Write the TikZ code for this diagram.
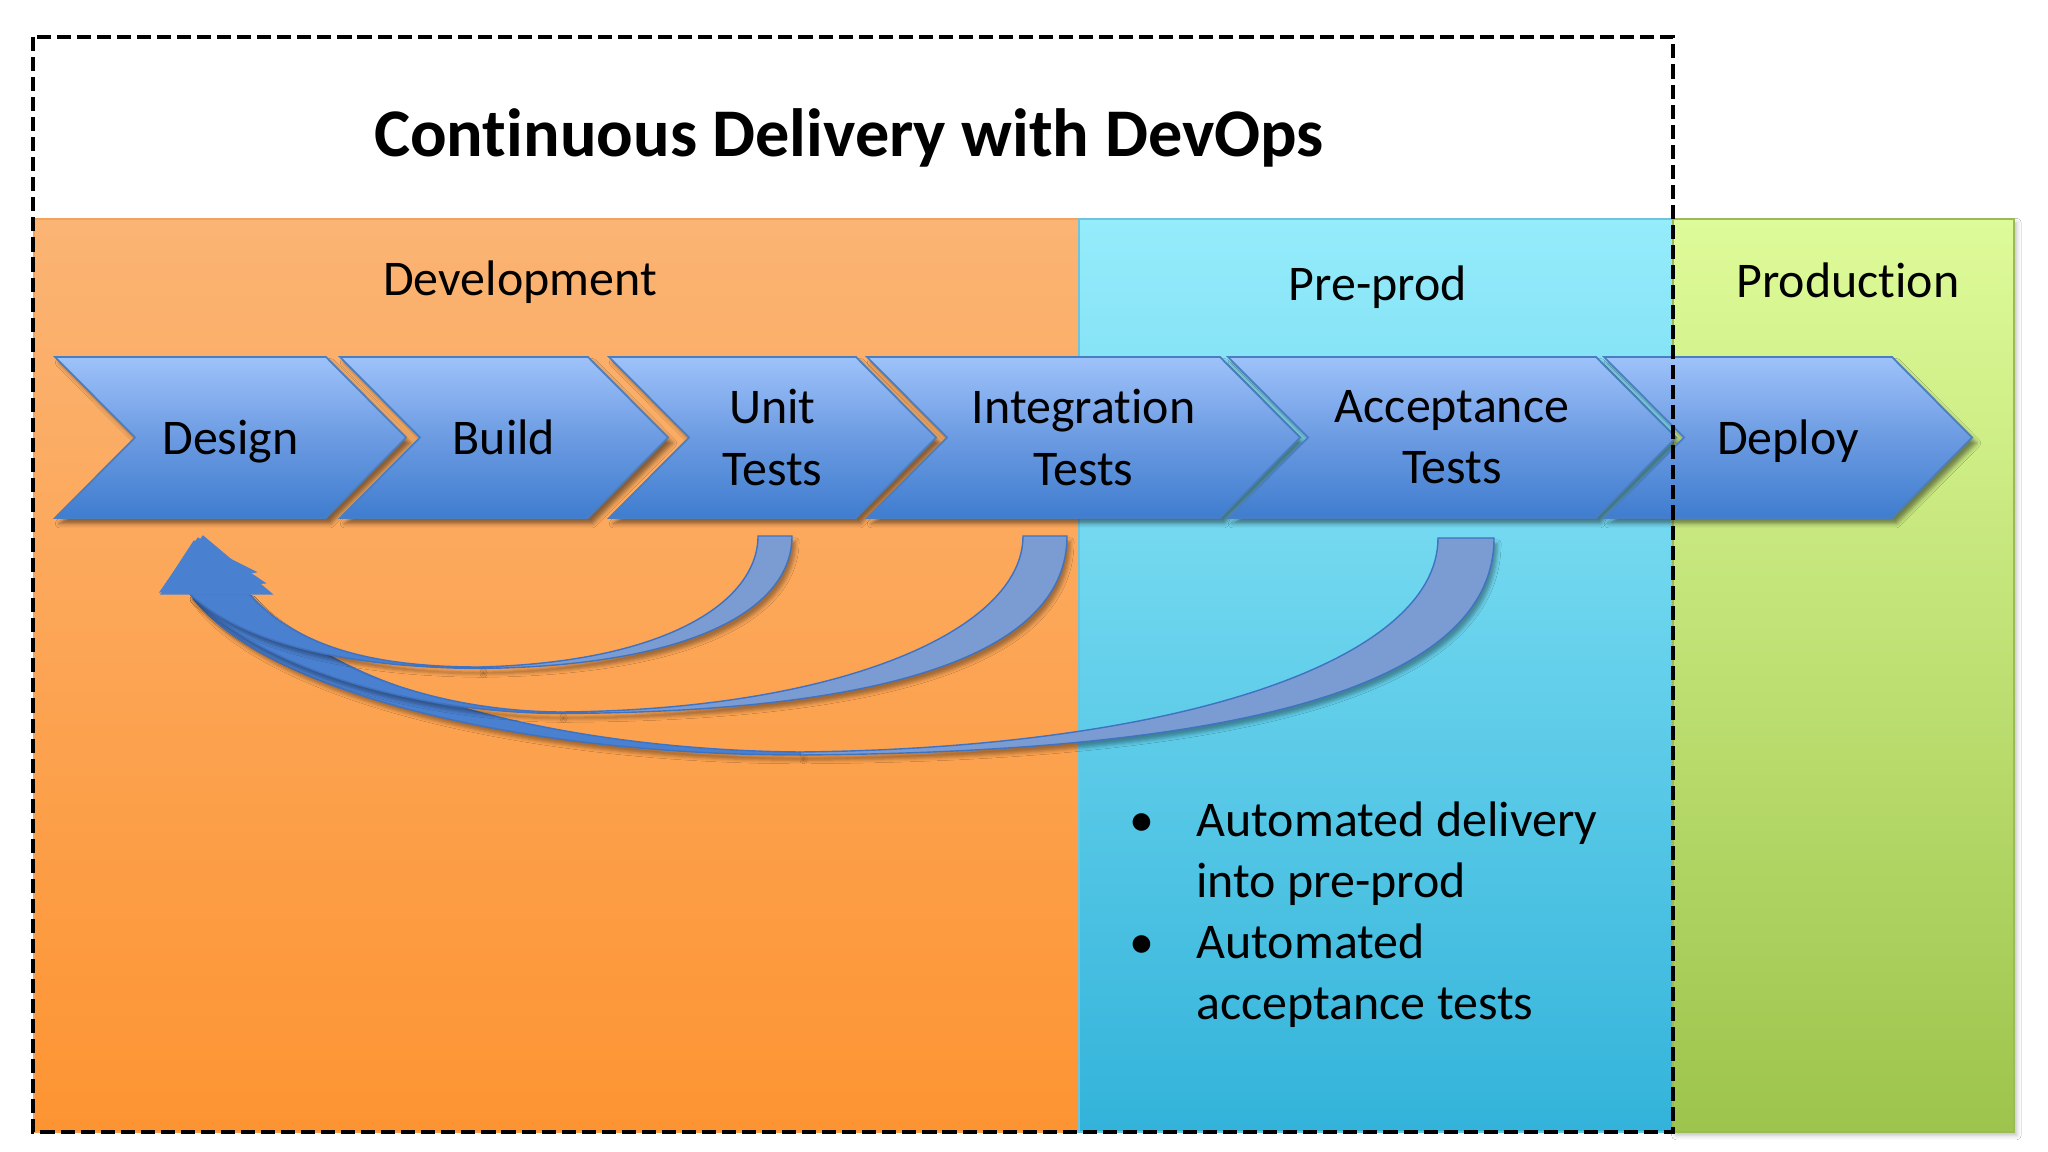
\documentclass[tikz,border=0pt]{standalone}
\usepackage{fontspec}
\setmainfont{Carlito}[Ligatures=NoCommon]
\usetikzlibrary{shadows.blur}
\definecolor{orTop}{HTML}{FBB474}
\definecolor{orBot}{HTML}{FD9432}
\definecolor{orLine}{HTML}{F3A25E}
\definecolor{cyTop}{HTML}{95ECFB}
\definecolor{cyBot}{HTML}{33B3DA}
\definecolor{cyLine}{HTML}{6CC5DC}
\definecolor{grTop}{HTML}{DEFB99}
\definecolor{grBot}{HTML}{9DC44C}
\definecolor{grLine}{HTML}{9BBB59}
\definecolor{chTop}{HTML}{9EC2FA}
\definecolor{chMid}{HTML}{6C9BE2}
\definecolor{chBot}{HTML}{3F7DCF}
\definecolor{chLine}{HTML}{4A7EC0}
\definecolor{bandLight}{HTML}{7B9CD2}
\definecolor{bandDark}{HTML}{4A80D0}
\definecolor{bandLine}{HTML}{3F72C0}
\tikzset{
  zone/.style={line width=0.6pt},
  chevbox/.style={draw=chLine, line width=0.5pt, top color=chTop, bottom color=chBot, middle color=chMid,
    blur shadow={shadow xshift=1.3pt, shadow yshift=-1.6pt, shadow blur radius=1.2pt, shadow opacity=45}},
  chevtext/.style={font=\fontsize{14.2}{17.35}\selectfont, align=center, inner sep=0pt},
  onetext/.style={chevtext, text depth=0pt},
  zonetext/.style={font=\fontsize{14.2}{17.35}\selectfont, inner sep=0pt, anchor=base},
  titletext/.style={font=\fontsize{19.4}{24}\selectfont\bfseries, inner sep=0pt, anchor=base},
  bandR/.style={fill=bandLight, draw=bandLine, line width=0.4pt,
    blur shadow={shadow xshift=1pt, shadow yshift=-1.5pt, shadow blur radius=1pt, shadow opacity=35}},
  bandL/.style={fill=bandDark, draw=bandLine, line width=0.4pt,
    blur shadow={shadow xshift=1pt, shadow yshift=-1.5pt, shadow blur radius=1pt, shadow opacity=35}},
  headtri/.style={fill=bandDark, draw=bandDark, line width=0.3pt},
  frame/.style={draw=black, line width=1.35pt, dash pattern=on 4pt off 1.7pt}
}
\newcommand\mychev[5]{%
  \path[chevbox] (#2,357) -- (#3,357) -- ({#3+80},437.5) -- (#3,518) -- (#2,518) -- ({#2+80},437.5) -- cycle;
  \node[#4] (#1) at ({(#2+#3+80)/2},437.5) {#5};
}
\begin{document}
\begin{tikzpicture}[x=0.01cm, y=-0.01cm]
\useasboundingbox (0,0) rectangle (2048,1152);
\fill[white] (0,0) rectangle (2048,1152);
% zones
\path[fill=black!30, blur shadow={shadow xshift=0.8pt, shadow yshift=-1pt, shadow blur radius=1.2pt, shadow opacity=25}] (1673,219) rectangle (2014,1132);
\path[zone, draw=orLine, top color=orTop, bottom color=orBot] (34,219) rectangle (1079,1132);
\path[zone, draw=cyLine, top color=cyTop, bottom color=cyBot] (1079,219) rectangle (1673,1132);
\path[zone, draw=grLine, top color=grTop, bottom color=grBot] (1673,219) rectangle (2014,1132);
% chevrons
\mychev{design}{55}{326}{onetext}{Design}
\mychev{build}{340}{588}{onetext}{Build}
\mychev{unit}{609}{856}{chevtext}{Unit\\Tests}
\mychev{integ}{867}{1220}{chevtext}{Integration\\Tests}
\mychev{accept}{1228}{1596}{chevtext}{Acceptance\\Tests}
\mychev{deploy}{1604}{1892}{onetext}{Deploy}
% feedback bands: acceptance
\path[bandR] (1438,538) -- (1494,538) .. controls (1494,680) and (1260,752) .. (800,755) -- (800,752) .. controls (1180,748) and (1438,660) .. (1438,538) -- cycle;
\path[bandL] (800,755) .. controls (520,755) and (260,692) .. (190,594) -- (249,594) .. controls (330,690) and (560,750) .. (800,752) -- cycle;
% integration
\path[bandR] (1023,536) -- (1067,536) .. controls (1067,650) and (900,712) .. (560,713.5) -- (560,712) .. controls (840,710) and (1023,630) .. (1023,536) -- cycle;
\path[bandL] (560,713.5) .. controls (420,713) and (260,670) .. (190,594) -- (249,594) .. controls (320,672) and (440,711) .. (560,712) -- cycle;
% unit
\path[bandR] (758,536) -- (792,536) .. controls (792,610) and (690,666) .. (480,668.5) -- (480,667) .. controls (670,662) and (758,600) .. (758,536) -- cycle;
\path[bandL] (480,668.5) .. controls (370,668) and (250,650) .. (190,594) -- (249,594) .. controls (300,650) and (380,667) .. (480,667) -- cycle;
% arrow heads
\coordinate (tip) at (203,536);
\path[headtri] (194,541) -- (256,572) -- (162,590) -- cycle;
\path[headtri] (198,538) -- (265,583) -- (160,592) -- cycle;
\path[headtri] (tip) -- (272,594) -- (161,594) -- cycle;
% frame
\path[frame] (33,37) rectangle (1673,1132);
% texts
\node[titletext] (title) at (849,157) {Continuous Delivery with DevOps};
\node[zonetext] (dev) at (520,296) {Development};
\node[zonetext] (pre) at (1378,301) {Pre-prod};
\node[zonetext] (prod) at (1848,298) {Production};
\node[font=\fontsize{14.2}{17.35}\selectfont, inner sep=0pt, anchor=base west] (bullets) at (1129,836)
  {\begin{tabular}[t]{@{}p{19pt}@{}l@{}}
   \textbullet & Automated delivery\\
               & into pre-prod\\
   \textbullet & Automated\\
               & acceptance tests
   \end{tabular}};
\end{tikzpicture}
\end{document}
